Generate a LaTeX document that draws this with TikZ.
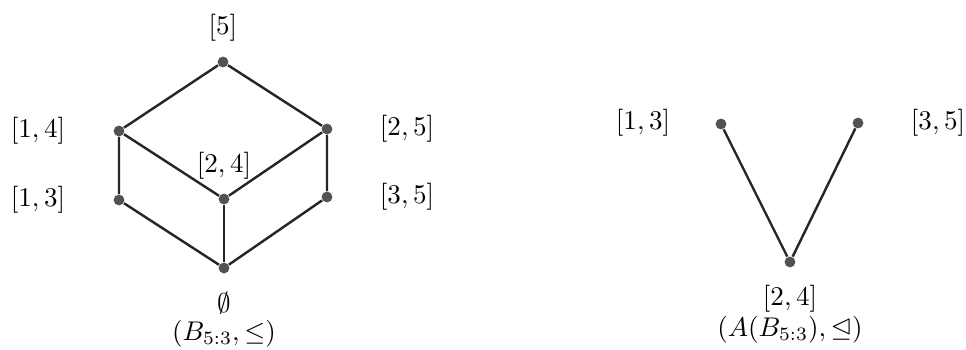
\documentclass[tikz,border=0pt]{standalone}
\usepackage{amssymb}
\begin{document}
\begin{tikzpicture}[x=0.37pt,y=-0.37pt,
  vtx/.style={circle,fill=black!68,inner sep=0pt,minimum size=4pt},
  edge/.style={line width=0.9pt,black!85},
  lbl/.style={inner sep=0pt,font=\fontsize{10.2}{12}\selectfont}]
\useasboundingbox (0,0) rectangle (966,349);
% left lattice
\node[vtx] (t) at (223,62) {};
\node[vtx] (a14) at (119,131) {};
\node[vtx] (a25) at (327,129) {};
\node[vtx] (a24) at (224,199) {};
\node[vtx] (a13) at (119,200) {};
\node[vtx] (a35) at (327,197) {};
\node[vtx] (b) at (224,268) {};
\draw[edge] (t) -- (a14) -- (a24) -- (a25) -- (t);
\draw[edge] (a14) -- (a13) -- (b) -- (a35) -- (a25);
\draw[edge] (a24) -- (b);
\node[lbl] (l5) at (223,28) {$[5]$};
\node[lbl] (l14) at (38,131) {$[1,4]$};
\node[lbl] (l25) at (407,129) {$[2,5]$};
\node[lbl] (l24) at (224,166) {$[2,4]$};
\node[lbl] (l13) at (38,200) {$[1,3]$};
\node[lbl] (l35) at (407,197) {$[3,5]$};
\node[lbl] (le) at (224,303) {$\emptyset$};
\node[lbl] (lB) at (224,334) {$(B_{5:3},\leq)$};
% right poset
\node[vtx] (r13) at (721,124) {};
\node[vtx] (r35) at (858,123) {};
\node[vtx] (r24) at (790,262) {};
\draw[edge] (r13) -- (r24) -- (r35);
\node[lbl] (m13) at (643,123) {$[1,3]$};
\node[lbl] (m35) at (938,123) {$[3,5]$};
\node[lbl] (m24) at (790,299) {$[2,4]$};
\node[lbl] (mA) at (790,330) {$(A(B_{5:3}),\trianglelefteq)$};
\end{tikzpicture}
\end{document}
